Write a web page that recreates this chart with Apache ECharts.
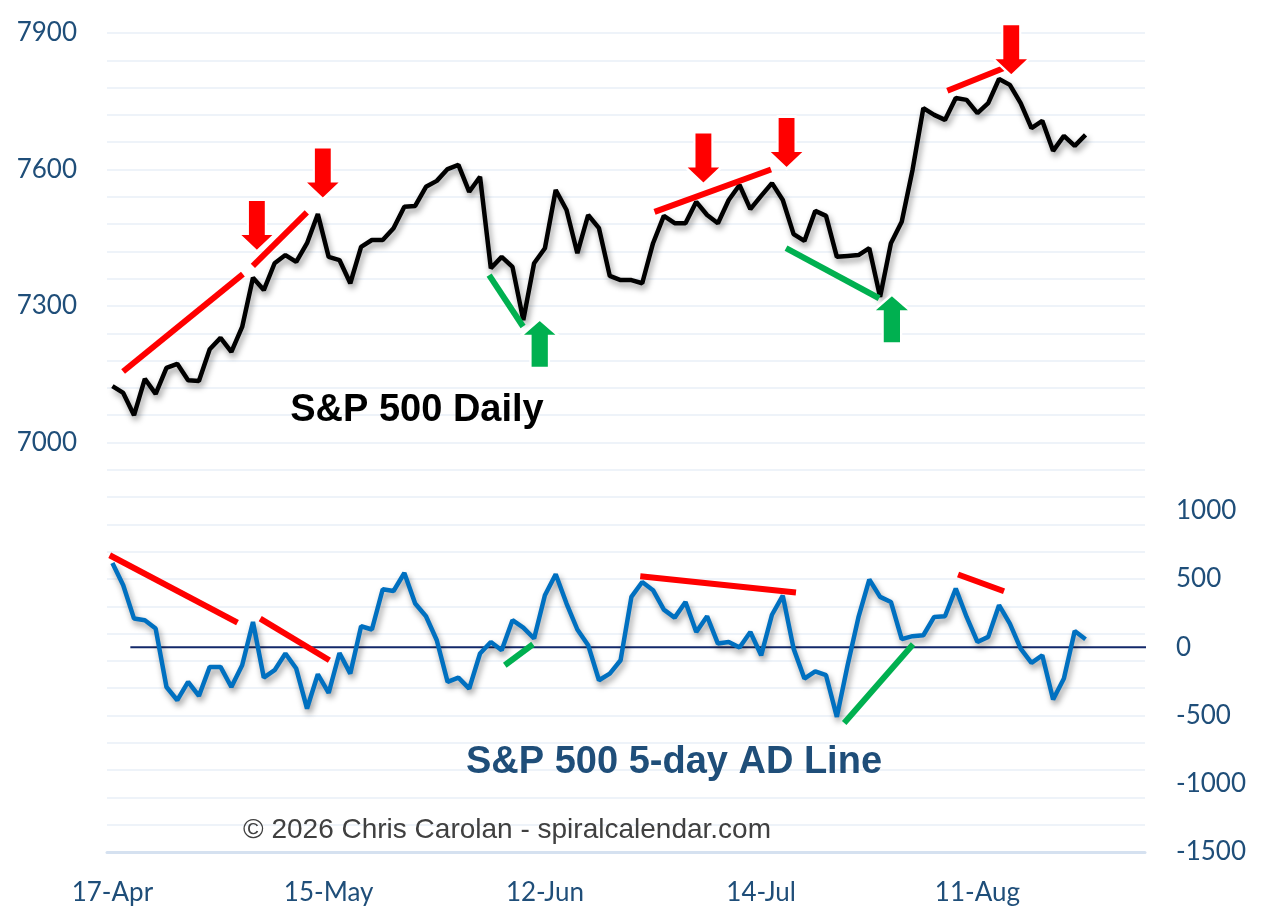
<!DOCTYPE html>
<html lang="en">
<head>
<meta charset="UTF-8">
<title>S&amp;P 500 Daily vs 5-day AD Line</title>
<script src="https://cdn.jsdelivr.net/npm/echarts@6.0.0/dist/echarts.min.js"></script>
<style>html,body{margin:0;padding:0;background:#fff;}</style>
</head>
<body>
<div id="main" style="width:1264px;height:919px;"></div>
<script>
// x axis: one slot per trading day, a label every 20 days
const tickLabels = ['17-Apr', '15-May', '12-Jun', '14-Jul', '11-Aug'];
const labelStep = 20;
const dayCount = 96;

// S&P 500 daily close (left axis)
const spx = [7124, 7109, 7060, 7140, 7107, 7164, 7173, 7137, 7135, 7205,
    7230, 7199, 7254, 7362, 7335, 7394, 7412, 7397, 7438, 7502,
    7408, 7401, 7350, 7430, 7445, 7445, 7471, 7518, 7520, 7562,
    7575, 7601, 7610, 7551, 7584, 7383, 7408, 7386, 7269, 7394,
    7427, 7555, 7511, 7416, 7500, 7471, 7366, 7357, 7357, 7350,
    7438, 7498, 7482, 7482, 7529, 7500, 7482, 7533, 7566, 7513,
    7542, 7570, 7533, 7458, 7443, 7509, 7498, 7408, 7410, 7412,
    7427, 7320, 7438, 7485, 7599, 7735, 7720, 7709, 7757, 7753,
    7724, 7746, 7799, 7786, 7746, 7691, 7707, 7641, 7674, 7652,
    7676];

// 5-day advance/decline line (right axis)
const adLine = [617, 454, 210, 198, 137, -291, -388, -254, -357, -144,
    -144, -291, -132, 185, -222, -168, -46, -156, -449, -198,
    -335, -42, -193, 154, 130, 425, 412, 544, 320, 227,
    51, -254, -222, -303, -46, 39, -22, 198, 144, 64,
    381, 535, 320, 130, 15, -242, -193, -95, 369, 478,
    418, 276, 217, 332, 112, 227, 27, 39, -2, 112,
    -59, 238, 378, -10, -229, -176, -205, -510, -130, 220,
    496, 369, 332, 59, 81, 88, 222, 227, 430, 222,
    39, 76, 308, 173, -10, -115, -59, -383, -229, 119,
    59];

// divergence lines, [day, value]
const spxRedLines = [
    [[0.99, 7156], [12.07, 7370]],
    [[12.99, 7388], [17.98, 7506]],
    [[50.14, 7507], [60.91, 7600]],
    [[77.22, 7773], [83.38, 7832]]
];
const spxGreenLines = [
    [[34.84, 7368], [37.98, 7255]],
    [[62.3, 7427], [70.91, 7317]]
];
const adRedLines = [
    [[-0.25, 674], [11.57, 181]],
    [[13.67, 210], [20.07, -95]],
    [[48.82, 520], [63.22, 401]],
    [[78.21, 533], [82.46, 410]]
];
const adGreenLines = [
    [[36.29, -132], [38.9, 22]],
    [[67.68, -555], [74.05, 22]]
];
const zeroLine = [[1.66, 0], [97.5, 0]];

// arrow centres, [day, S&P value]
const redArrows = [[13.36, 7477], [19.46, 7592], [54.66, 7625], [62.35, 7659], [83.13, 7863]];
const greenArrows = [[39.52, 7217], [72.09, 7271]];

const RED = '#ff0000';
const GREEN = '#00b050';
const NAVY = '#1f4e79';
const arrowPath = 'path://M10,0 L28,0 L28,34 L38,34 L19,52 L0,34 L10,34 Z';

const chart = echarts.init(document.getElementById('main'));

const days = [];
for (let i = 0; i < dayCount; i++) days.push(i);

function segSeries(segs, color, yIdx) {
    return segs.map(s => ({
        type: 'line',
        xAxisIndex: 1,
        yAxisIndex: yIdx,
        data: s,
        symbol: 'none',
        silent: true,
        z: 5,
        lineStyle: { color: color, width: 6, cap: 'butt' }
    }));
}

const shadow = { shadowColor: 'rgba(0,0,0,0.4)', shadowBlur: 6, shadowOffsetX: 2, shadowOffsetY: 4 };

const option = {
    animation: false,
    grid: { left: 107, right: 119, top: 33, bottom: 67 },
    xAxis: [
        {
            type: 'category',
            data: days,
            boundaryGap: true,
            axisTick: { show: false },
            axisLine: { onZero: false, lineStyle: { color: '#d5e1f0', width: 3 } },
            axisLabel: {
                interval: labelStep - 1,
                margin: 28,
                color: NAVY,
                fontFamily: 'Lato',
                fontSize: 26,
                formatter: v => tickLabels[Number(v) / labelStep] || ''
            },
            splitLine: { show: false }
        },
        { type: 'value', min: -0.5, max: dayCount - 0.5, show: false }
    ],
    yAxis: [
        {
            type: 'value',
            min: 6100,
            max: 7900,
            interval: 60,
            axisLine: { show: false },
            axisTick: { show: false },
            axisLabel: {
                margin: 30,
                color: NAVY,
                fontFamily: 'Lato',
                fontSize: 26,
                formatter: v => (v >= 7000 && (v - 7000) % 300 === 0) ? String(v) : ''
            },
            splitLine: { lineStyle: { color: '#eef3f9', width: 2 } }
        },
        {
            type: 'value',
            min: -1500,
            max: 4500,
            interval: 500,
            axisLine: { show: false },
            axisTick: { show: false },
            splitLine: { show: false },
            axisLabel: {
                margin: 31,
                color: NAVY,
                fontFamily: 'Lato',
                fontSize: 26,
                formatter: v => v <= 1000 ? String(v) : ''
            }
        }
    ],
    series: [
        {
            type: 'line',
            xAxisIndex: 1,
            yAxisIndex: 1,
            data: zeroLine,
            symbol: 'none',
            clip: false,
            silent: true,
            z: 2,
            lineStyle: { color: '#13296a', width: 2 }
        },
        {
            name: 'S&P 500',
            type: 'line',
            yAxisIndex: 0,
            data: spx,
            symbol: 'none',
            z: 3,
            lineStyle: Object.assign({ color: '#000', width: 4.5 }, shadow)
        },
        {
            name: 'AD Line',
            type: 'line',
            yAxisIndex: 1,
            data: adLine,
            symbol: 'none',
            z: 3,
            lineStyle: Object.assign({ color: '#0070c0', width: 4.5 }, shadow)
        },
        ...segSeries(spxRedLines, RED, 0),
        ...segSeries(spxGreenLines, GREEN, 0),
        ...segSeries(adRedLines, RED, 1),
        ...segSeries(adGreenLines, GREEN, 1),
        {
            type: 'scatter',
            xAxisIndex: 1,
            yAxisIndex: 0,
            data: redArrows,
            symbol: arrowPath,
            symbolSize: [38, 52],
            silent: true,
            z: 6,
            itemStyle: { color: RED, opacity: 1, borderColor: '#fff', borderWidth: 2.5 }
        },
        {
            type: 'scatter',
            xAxisIndex: 1,
            yAxisIndex: 0,
            data: greenArrows,
            symbol: arrowPath,
            symbolSize: [39, 49],
            symbolRotate: 180,
            silent: true,
            z: 6,
            itemStyle: { color: GREEN, opacity: 1, borderColor: '#fff', borderWidth: 2.5 }
        }
    ],
    graphic: [
        {
            type: 'text', x: 417, y: 411, z: 10,
            style: { text: 'S&P 500 Daily', fill: '#000', font: 'bold 38px "Liberation Sans", Arial, sans-serif', align: 'center', verticalAlign: 'middle' }
        },
        {
            type: 'text', x: 674, y: 763, z: 10,
            style: { text: 'S&P 500 5-day AD Line', fill: NAVY, font: 'bold 38px "Liberation Sans", Arial, sans-serif', align: 'center', verticalAlign: 'middle' }
        },
        {
            type: 'text', x: 507, y: 830, z: 10,
            style: { text: '© 2026 Chris Carolan - spiralcalendar.com', fill: '#404040', font: '28px "Liberation Sans", Arial, sans-serif', align: 'center', verticalAlign: 'middle' }
        }
    ]
};

chart.setOption(option);
</script>
</body>
</html>
